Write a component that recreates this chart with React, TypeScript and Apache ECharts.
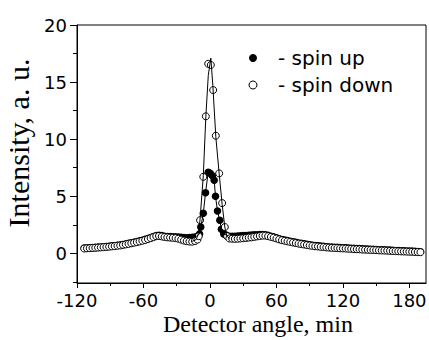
import React, { useEffect, useRef } from "react";
import * as echarts from "echarts";

// ---- data ----
const xTickValues = [-120, -60, 0, 60, 120, 180];
const xMinorTickValues = [-90, -30, 30, 90, 150];
const yTickValues = [0, 5, 10, 15, 20];
const yMinorTickValues = [-2.5, 2.5, 7.5, 12.5, 17.5];

const baseLeftX = [
  -113.5, -111, -108.5, -106, -103.5, -101, -98.5, -96, -93.5, -91, -88.5, -86, -83.5, -81,
  -78.5, -76, -73.5, -71, -68.5, -66, -63.5, -61, -58.5, -56, -53.5, -51, -48.5, -46, -43.5,
  -41, -38.5, -36, -33.5, -31, -28.5, -26, -23.5, -21, -18.5, -16,
];
const downLeftY = [
  0.42, 0.44, 0.45, 0.47, 0.48, 0.5, 0.52, 0.54, 0.56, 0.58, 0.61, 0.63, 0.66, 0.69, 0.74, 0.78,
  0.83, 0.88, 0.93, 0.98, 1.04, 1.1, 1.17, 1.25, 1.33, 1.42, 1.5, 1.52, 1.48, 1.43, 1.4, 1.38,
  1.36, 1.33, 1.28, 1.2, 1.12, 1.06, 1.03, 1.02,
];
const upLeftY = [
  0.46, 0.47, 0.49, 0.5, 0.52, 0.54, 0.56, 0.58, 0.6, 0.62, 0.65, 0.67, 0.7, 0.73, 0.78, 0.82,
  0.87, 0.92, 0.97, 1.03, 1.09, 1.15, 1.22, 1.3, 1.38, 1.47, 1.55, 1.58, 1.55, 1.5, 1.47, 1.46,
  1.45, 1.44, 1.42, 1.4, 1.38, 1.37, 1.38, 1.4,
];

const peakDownX = [-13.5, -11.3, -10.1, -8.9, -6.0, -3.7, -1.6, 0.8, 2.9, 5.3, 8.3, 11.0, 13.4, 15.5];
const peakDownY = [1.08, 1.2, 1.5, 2.9, 6.7, 12.0, 16.6, 16.5, 14.3, 10.3, 7.0, 4.4, 2.3, 1.5];

const peakUpX = [-13.5, -11.4, -9.4, -8.3, -6.0, -4.0, -1.6, 0.3, 2.2, 3.8, 5.0, 6.8, 8.9, 10.3, 12.4, 14.6];
const peakUpY = [1.42, 1.5, 1.7, 2.3, 3.5, 5.3, 7.1, 7.0, 6.8, 6.4, 5.0, 3.7, 2.9, 2.1, 1.7, 1.6];

const baseRightX = [
  17.5, 20, 22.5, 25, 27.5, 30, 32.5, 35, 37.5, 40, 42.5, 45, 47.5, 50, 52.5, 55, 57.5, 60, 62.5,
  65, 67.5, 70, 72.5, 75, 77.5, 80, 82.5, 85, 87.5, 90, 92.5, 95, 97.5, 100, 102.5, 105, 107.5,
  110, 112.5, 115, 117.5, 120, 122.5, 125, 127.5, 130, 132.5, 135, 137.5, 140, 142.5, 145, 147.5,
  150, 152.5, 155, 157.5, 160, 162.5, 165, 167.5, 170, 172.5, 175, 177.5, 180, 182.5, 185, 187.5,
  190,
];
const downRightY = [
  1.3, 1.28, 1.27, 1.28, 1.3, 1.32, 1.35, 1.38, 1.4, 1.44, 1.48, 1.52, 1.55, 1.55, 1.5, 1.44,
  1.38, 1.3, 1.22, 1.15, 1.1, 1.05, 1.0, 0.95, 0.9, 0.85, 0.81, 0.77, 0.73, 0.69, 0.65, 0.62,
  0.6, 0.57, 0.55, 0.52, 0.5, 0.48, 0.47, 0.46, 0.44, 0.43, 0.42, 0.4, 0.39, 0.37, 0.36, 0.35,
  0.33, 0.32, 0.31, 0.3, 0.29, 0.28, 0.26, 0.25, 0.24, 0.23, 0.22, 0.2, 0.19, 0.18, 0.17, 0.16,
  0.15, 0.14, 0.13, 0.12, 0.11, 0.1,
];
const upRightY = [
  1.5, 1.5, 1.5, 1.52, 1.53, 1.55, 1.56, 1.58, 1.6, 1.62, 1.63, 1.64, 1.64, 1.62, 1.57, 1.5,
  1.44, 1.36, 1.28, 1.21, 1.16, 1.11, 1.06, 1.01, 0.96, 0.91, 0.87, 0.83, 0.79, 0.75, 0.71, 0.68,
  0.66, 0.63, 0.61, 0.58, 0.56, 0.54, 0.53, 0.52, 0.5, 0.49, 0.48, 0.46, 0.45, 0.43, 0.42, 0.41,
  0.39, 0.38, 0.37, 0.36, 0.35, 0.34, 0.32, 0.31, 0.3, 0.29, 0.28, 0.26, 0.25, 0.24, 0.23, 0.22,
  0.21, 0.2, 0.19, 0.18, 0.16, 0.14,
];

const fitDownX = [-16, -12.5, -10.5, -9, -6, -3.7, -1.5, 0.8, 2.6, 5.3, 8.3, 11, 13.4, 15.2, 18];
const fitDownY = [1.05, 1.2, 1.7, 2.9, 6.8, 12.0, 15.6, 17.1, 14.7, 10.2, 7.0, 4.3, 2.3, 1.5, 1.3];

const fitUpX = [-16, -12, -9.4, -8.3, -6, -4, -1.6, 0.4, 2.2, 3.8, 5, 6.8, 8.9, 10.5, 12.5, 16];
const fitUpY = [1.4, 1.5, 1.7, 2.3, 3.5, 5.3, 7.1, 7.3, 6.8, 6.4, 5.0, 3.7, 2.8, 2.1, 1.7, 1.55];

const X_MIN = -120;
const X_MAX = 195;
const Y_MIN = -2.6;
const Y_MAX = 20;

const zip = (xs: number[], ys: number[]) => xs.map((x, i) => [x, ys[i]]);

export default function App() {
  const ref = useRef<HTMLDivElement>(null);

  useEffect(() => {
    if (!ref.current) return;
    const chart = echarts.init(ref.current, undefined, { renderer: "svg" });

    const upData = [...zip(baseLeftX, upLeftY), ...zip(peakUpX, peakUpY), ...zip(baseRightX, upRightY)];
    const downData = [
      ...zip(baseLeftX, downLeftY),
      ...zip(peakDownX, peakDownY),
      ...zip(baseRightX, downRightY),
    ];

    const sans = "DejaVu Sans";
    const serif = "Liberation Serif";

    chart.setOption({
      animation: false,
      backgroundColor: "#fff",
      grid: {
        left: 77,
        right: 3,
        top: 25,
        bottom: 57,
        show: true,
        borderColor: "#000",
        borderWidth: 1,
        containLabel: false,
        outerBoundsMode: "none",
      },
      legend: {
        orient: "vertical",
        left: 243.5,
        top: 43,
        itemWidth: 8,
        itemHeight: 8,
        itemGap: 7,
        selectedMode: false,
        formatter: (n: string) => "- " + n,
        textStyle: { fontFamily: sans, fontSize: 20, color: "#000", padding: [0, 0, 0, 16] },
        data: [
          { name: "spin up", icon: "circle", itemStyle: { color: "#000", borderWidth: 0, opacity: 1 } },
          {
            name: "spin down",
            icon: "circle",
            itemStyle: { color: "#fff", borderColor: "#000", borderWidth: 1, opacity: 1 },
          },
        ],
      },
      xAxis: [
        {
          type: "value",
          min: X_MIN,
          max: X_MAX,
          position: "bottom",
          name: "Detector angle, min",
          nameLocation: "middle",
          nameGap: 29,
          nameMoveOverlap: false,
          nameTextStyle: {
            fontFamily: serif,
            fontSize: 24,
            color: "#000",
            padding: [0, 0, 0, 13],
          },
          axisLine: { show: true, onZero: false, lineStyle: { color: "#000", width: 1 } },
          axisTick: { show: true, length: 5, customValues: xTickValues, lineStyle: { color: "#000", width: 1 } },
          axisLabel: {
            customValues: xTickValues,
            margin: 8,
            fontFamily: sans,
            fontSize: 18,
            color: "#000",
          },
          splitLine: { show: false },
        },
        {
          type: "value",
          min: X_MIN,
          max: X_MAX,
          position: "bottom",
          axisLine: { show: false, onZero: false },
          axisTick: { show: true, length: 3, customValues: xMinorTickValues, lineStyle: { color: "#000", width: 1 } },
          axisLabel: { show: false },
          splitLine: { show: false },
        },
      ],
      yAxis: [
        {
          type: "value",
          min: Y_MIN,
          max: Y_MAX,
          position: "left",
          name: "Intensity, a. u.",
          nameLocation: "middle",
          nameGap: 38,
          nameTextStyle: { fontFamily: serif, fontSize: 30, color: "#000", padding: [0, 0, 0, 22] },
          axisLine: { show: true, onZero: false, lineStyle: { color: "#000", width: 1 } },
          axisTick: { show: true, length: 7, customValues: yTickValues, lineStyle: { color: "#000", width: 1 } },
          axisLabel: {
            customValues: yTickValues,
            margin: 10,
            fontFamily: sans,
            fontSize: 18,
            color: "#000",
          },
          splitLine: { show: false },
        },
        {
          type: "value",
          min: Y_MIN,
          max: Y_MAX,
          position: "left",
          axisLine: { show: false, onZero: false },
          axisTick: { show: true, length: 4, customValues: yMinorTickValues, lineStyle: { color: "#000", width: 1 } },
          axisLabel: { show: false },
          splitLine: { show: false },
        },
      ],
      series: [
        {
          name: "spin up",
          type: "scatter",
          symbol: "circle",
          symbolSize: 7.5,
          itemStyle: { color: "#000", opacity: 1 },
          data: upData,
          z: 2,
        },
        {
          name: "spin down",
          type: "scatter",
          symbol: "circle",
          symbolSize: 7,
          itemStyle: { color: "#fff", borderColor: "#000", borderWidth: 1, opacity: 1 },
          data: downData,
          z: 3,
        },
        {
          name: "fit up",
          type: "line",
          showSymbol: false,
          symbol: "none",
          lineStyle: { color: "#000", width: 1 },
          data: zip(fitUpX, fitUpY),
          z: 4,
        },
        {
          name: "fit down",
          type: "line",
          showSymbol: false,
          symbol: "none",
          lineStyle: { color: "#000", width: 1 },
          data: zip(fitDownX, fitDownY),
          z: 4,
        },
      ],
    });

    return () => chart.dispose();
  }, []);

  return (
    <div
      ref={ref}
      style={{ position: "fixed", left: 0, top: 0, width: 429, height: 340 }}
    />
  );
}
